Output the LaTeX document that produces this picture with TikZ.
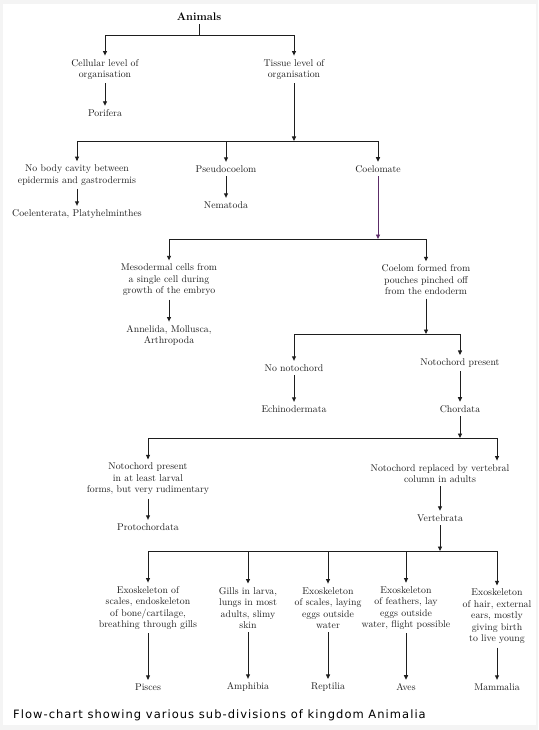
\documentclass[tikz,border=0pt]{standalone}
\usepackage{fontspec}
\usepackage{xcolor}
\usepackage{tikz}
\usetikzlibrary{arrows.meta}
\newfontfamily\capfont[LetterSpace=9]{DejaVu Sans}
\definecolor{pagegray}{HTML}{F4F4F4}
\definecolor{inkgray}{HTML}{1E1E1E}
\definecolor{coelomline}{RGB}{92,44,104}

\begin{document}
\begin{tikzpicture}[x=1pt, y=-1pt,
    taxon/.style={align=center, text=inkgray, font=\fontsize{9.8}{11.5}\selectfont, inner xsep=2pt, inner ysep=3.5pt},
    title/.style={font=\fontsize{11}{13}\selectfont\bfseries, text=black, inner sep=3pt},
    line/.style={draw=inkgray, line width=0.9pt},
    arr/.style={line, -{Triangle[length=4.5pt, width=4pt]}},
    caption/.style={font=\capfont\fontsize{11.5}{13}\selectfont, text=black, anchor=west, inner sep=0pt}
]
% Page
\fill[pagegray] (0,0) rectangle (538,730);
\fill[white] (3,4) rectangle (536,725);
% Top levels
\node[title] (animals)  at (199,17)   {Animals};
\node[taxon] (cell)     at (105,69.5) {Cellular level of\\organisation};
\node[taxon] (tissue)   at (294,69.5) {Tissue level of\\organisation};
\node[taxon] (porifera) at (105,113)  {Porifera};
% Body cavity
\node[taxon] (nobody)    at (77,175)  {No body cavity between\\epidermis and gastrodermis};
\node[taxon] (pseudo)    at (226,169) {Pseudocoelom};
\node[taxon] (coelomate) at (378,169) {Coelomate};
\node[taxon] (coelen)    at (77,214)  {Coelenterata, Platyhelminthes};
\node[taxon] (nematoda)  at (226,205) {Nematoda};
% Origin of coelom
\node[taxon] (meso)     at (169,280)   {Mesodermal cells from\\a single cell during\\growth of the embryo};
\node[taxon] (pouch)    at (426,280)   {Coelom formed from\\pouches pinched off\\from the endoderm};
\node[taxon] (annelida) at (169,335.5) {Annelida, Mollusca,\\Arthropoda};
% Notochord
\node[taxon] (nonoto)     at (294,368)   {No notochord};
\node[taxon] (notopres)   at (460,363)   {Notochord present};
\node[taxon] (echino)     at (294,409)   {Echinodermata};
\node[taxon] (chordata)   at (460,409)   {Chordata};
\node[taxon] (larval)     at (148,479)   {Notochord present\\in at least larval\\forms, but very rudimentary};
\node[taxon] (replaced)   at (440,473.5) {Notochord replaced by vertebral\\column in adults};
\node[taxon] (proto)      at (148,527)   {Protochordata};
\node[taxon] (vertebrata) at (440,518)   {Vertebrata};
% Vertebrate classes
\node[taxon] (piscd) at (148,608)   {Exoskeleton of\\scales, endoskeleton\\of bone/cartilage,\\breathing through gills};
\node[taxon] (amphd) at (248,608)   {Gills in larva,\\lungs in most\\adults, slimy\\skin};
\node[taxon] (reptd) at (328,608)   {Exoskeleton\\of scales, laying\\eggs outside\\water};
\node[taxon] (avesd) at (406,608)   {Exoskeleton\\of feathers, lay\\eggs outside\\water, flight possible};
\node[taxon] (mammd) at (497,616.5) {Exoskeleton\\of hair, external\\ears, mostly\\giving birth\\to live young};
\node[taxon] (pisces)   at (148,687) {Pisces};
\node[taxon] (amphibia) at (248,687) {Amphibia};
\node[taxon] (reptilia) at (328,687) {Reptilia};
\node[taxon] (aves)     at (406,687) {Aves};
\node[taxon] (mammalia) at (497,687) {Mammalia};
% Caption
\node[caption] (cap) at (13,715) {Flow-chart showing various sub-divisions of kingdom Animalia};
% Connectors
\coordinate (b1) at (199,35);
\draw[line] (animals) -- (b1);
\draw[arr] (b1) -| (cell);
\draw[arr] (b1) -| (tissue);
\draw[arr] (cell) -- (porifera);
\coordinate (b2) at (294,141);
\draw[arr] (tissue) -- (b2);
\draw[arr] (b2) -| (nobody);
\draw[arr] (b2) -| (pseudo);
\draw[arr] (b2) -| (coelomate);
\draw[arr] (nobody) -- (coelen);
\draw[arr] (pseudo) -- (nematoda);
\coordinate (b3) at (378,239);
\draw[arr, draw=coelomline] (coelomate) -- (b3);
\draw[arr] (b3) -| (meso);
\draw[arr] (b3) -| (pouch);
\draw[arr] (meso) -- (annelida);
\coordinate (b4) at (426,334);
\draw[arr] (pouch) -- (b4);
\draw[arr] (b4) -| (nonoto);
\draw[arr] (b4) -| (notopres);
\draw[arr] (nonoto) -- (echino);
\draw[arr] (notopres) -- (chordata);
\coordinate (b5) at (460,438);
\coordinate (b5r) at (497,438);
\draw[arr] (chordata) -- (b5);
\draw[arr] (b5) -| (larval);
\draw[arr] (b5) -- (b5r) -- (replaced.north -| b5r);
\draw[arr] (larval) -- (proto);
\draw[arr] (replaced) -- (vertebrata);
\coordinate (b6) at (440,551);
\draw[arr] (vertebrata) -- (b6);
\foreach \d in {piscd, amphd, reptd, avesd, mammd}
  \draw[arr] (b6) -| (\d);
\draw[arr] (piscd) -- (pisces);
\draw[arr] (amphd) -- (amphibia);
\draw[arr] (reptd) -- (reptilia);
\draw[arr] (avesd) -- (aves);
\draw[arr] (mammd) -- (mammalia);
\end{tikzpicture}
\end{document}
